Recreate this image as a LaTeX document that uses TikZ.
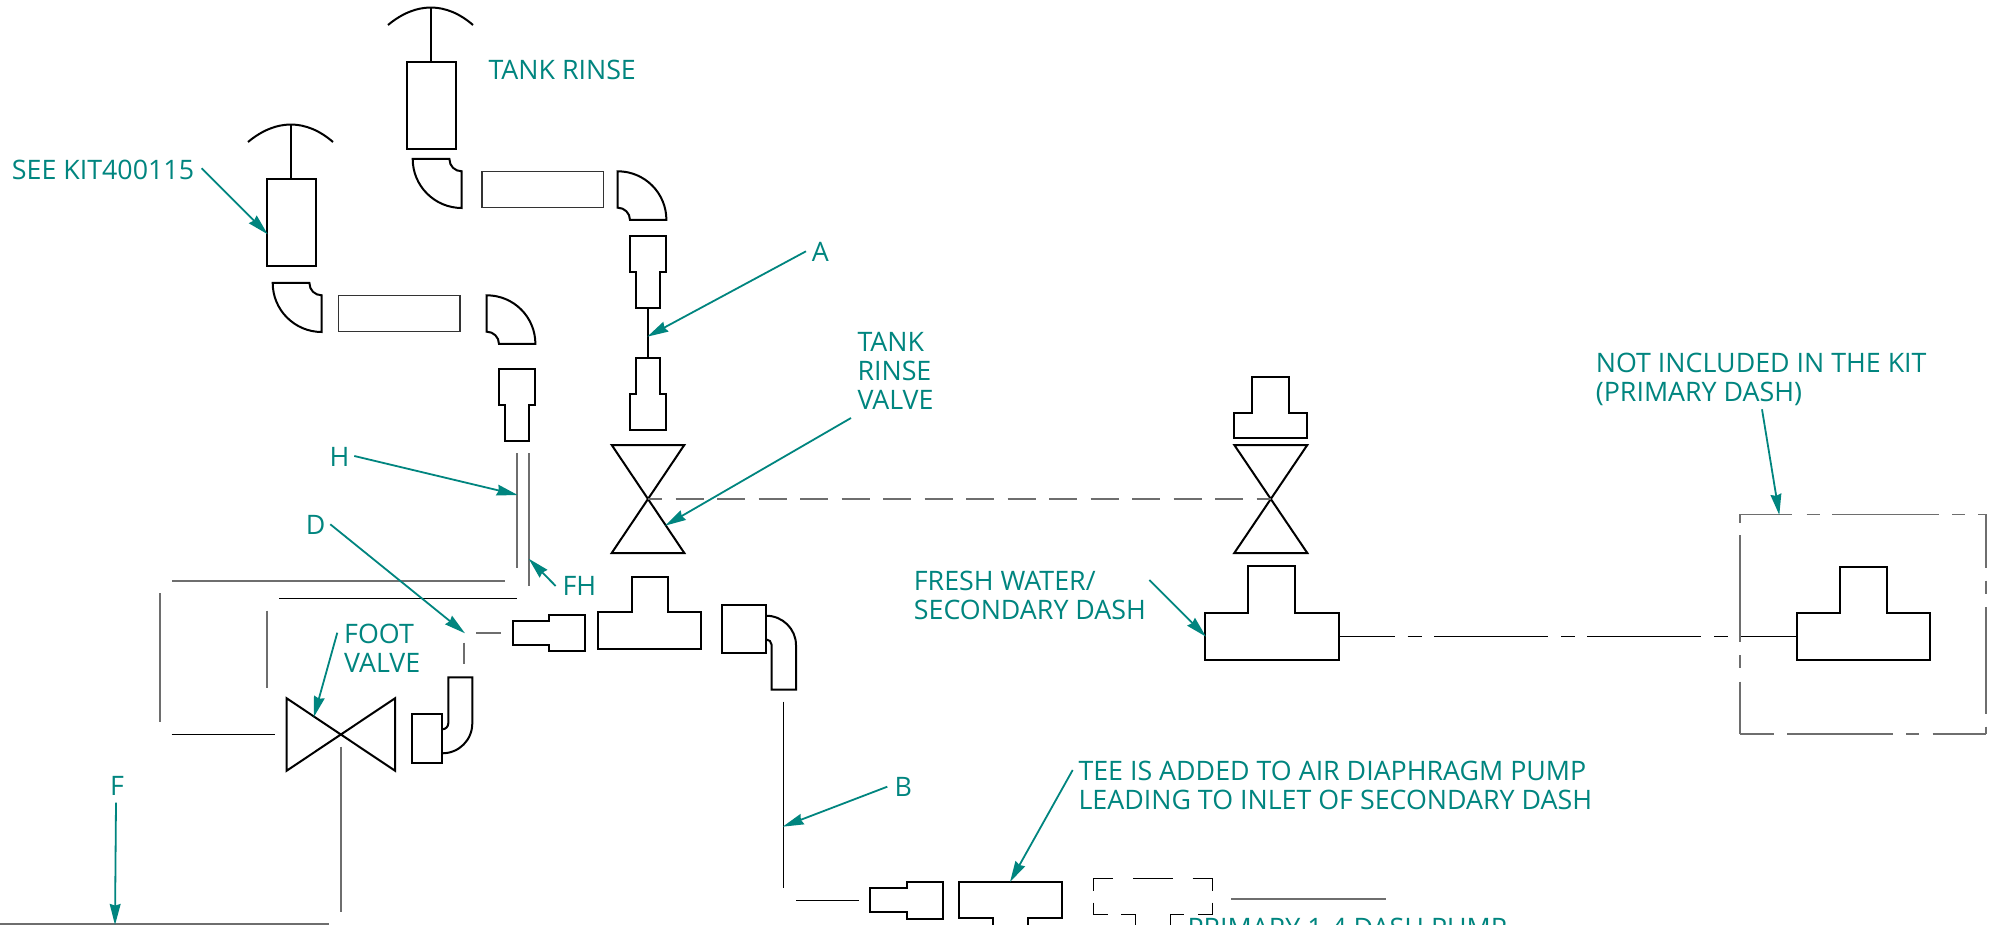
\documentclass[tikz,border=0pt]{standalone}
\usepackage{fontspec}
\setmainfont{Open Sans}
\usetikzlibrary{arrows.meta}
\definecolor{leader}{HTML}{00857F}
\definecolor{pipegray}{HTML}{6E6E6E}
\tikzset{
  part/.style={draw=black,line width=1pt,fill=none,line join=miter},
  thinbox/.style={draw=black!80,line width=.55pt},
  grayline/.style={draw=pipegray,line width=.8pt},
  thinline/.style={draw=black,line width=.5pt},
  lead/.style={draw=leader,line width=.9pt,-{Stealth[length=10.5pt,width=5.4pt,inset=.8pt]}},
  lab/.style={text=leader,anchor=base west,inner sep=0pt,align=left,xshift=-.6pt,yshift=-.5pt,font=\fontsize{13.4}{14.5}\selectfont},
  elbowa/.pic={\path[part] (0,0) .. controls (0,27) and (22,49) .. (49,49) -- (49,12.3) .. controls (42.2,12.3) and (36.7,7.1) .. (36.7,0) -- cycle;},
  elbowb/.pic={\path[part] (0,0) .. controls (27,0) and (48.7,21.7) .. (48.7,48.7) -- (12.3,48.7) .. controls (12.3,41.9) and (6.8,36.4) .. (0,36.4) -- cycle;},
  handle/.pic={\path[part] (0,18) .. controls (28,-5.3) and (58,-5.3) .. (85,18);
    \path[part] (43.3,0.5) -- (43.3,55);
    \path[part] (19.3,55) rectangle (68,141.7);}
}
\begin{document}
\begin{tikzpicture}[x=0.5pt,y=-0.5pt]
\useasboundingbox (0,0) rectangle (1993,925);
\begin{scope}
\clip (0,0) rectangle (1993,925);
\fill[white] (0,0) rectangle (1993,925);

% handles and upper pipe run
\pic at (388,7) {handle};
\pic at (248,124) {handle};
\pic at (412.7,159) {elbowa};
\pic at (272.7,283) {elbowa};
\pic at (617.7,171.3) {elbowb};
\pic at (486.7,295.3) {elbowb};
\path[thinbox] (482,171.3) rectangle (603.3,207.3);
\path[thinbox] (338.3,295.3) rectangle (460,331.3);

% reducers on the tank rinse line
\path[part] (630,235.7) -- (666.3,235.7) -- (666.3,272) -- (660,272) -- (660,307.7) -- (636,307.7) -- (636,272) -- (630,272) -- cycle;
\path[part] (648,307.7) -- (648,357.7);
\path[part] (636,357.7) -- (660,357.7) -- (660,394) -- (666.3,394) -- (666.3,430) -- (630,430) -- (630,394) -- (636,394) -- cycle;
\path[part] (498.7,369) -- (535,369) -- (535,405.3) -- (529.3,405.3) -- (529.3,441) -- (505,441) -- (505,405.3) -- (498.7,405.3) -- cycle;

% valves
\path[part] (611.7,445) -- (684.3,445) -- (611.7,553) -- (684.3,553) -- cycle;
\path[part] (1234.3,445) -- (1307.3,445) -- (1234.3,553) -- (1307.3,553) -- cycle;
\path[part] (286.7,698.3) -- (395,770.7) -- (395,698.3) -- (286.7,770.7) -- cycle;

% valve head
\path[part] (1252.3,377.3) -- (1289,377.3) -- (1289,413.3) -- (1307.3,413.3) -- (1307.3,438) -- (1234.3,438) -- (1234.3,413.3) -- (1252.3,413.3) -- cycle;

% tees
\path[part] (631.7,576.7) -- (667.7,576.7) -- (667.7,612.3) -- (701,612.3) -- (701,648.7) -- (598,648.7) -- (598,612.3) -- (631.7,612.3) -- cycle;
\path[part] (1248.3,566.3) -- (1295.3,566.3) -- (1295.3,613) -- (1338.7,613) -- (1338.7,659.7) -- (1205.3,659.7) -- (1205.3,613) -- (1248.3,613) -- cycle;
\path[part] (1840,566.7) -- (1887.3,566.7) -- (1887.3,613) -- (1930.3,613) -- (1930.3,660) -- (1797,660) -- (1797,613) -- (1840,613) -- cycle;
\path[part] (959.3,881.7) -- (1062,881.7) -- (1062,917.7) -- (1028.3,917.7) -- (1028.3,935) -- (993,935) -- (993,917.7) -- (959.3,917.7) -- cycle;

% reducers on the lower line
\path[part] (512.7,620.7) -- (548.7,620.7) -- (548.7,614.7) -- (585,614.7) -- (585,650.7) -- (548.7,650.7) -- (548.7,644.7) -- (512.7,644.7) -- cycle;
\path[part] (870.3,888) -- (906.7,888) -- (906.7,882) -- (942.7,882) -- (942.7,918.7) -- (906.7,918.7) -- (906.7,912) -- (870.3,912) -- cycle;

% bent fittings
\path[part] (722,605.3) rectangle (766,652.7);
\path[part] (766,615.7) .. controls (782.6,615.7) and (796,629) .. (796,645) -- (796,689.7) -- (771.7,689.7) -- (771.7,645) .. controls (771.7,642) and (769,639.3) .. (766,639.3);
\path[part] (411.7,714) rectangle (442.3,763.3);
\path[part] (442.3,753.3) .. controls (459,753.3) and (472.3,740) .. (472.3,723.3) -- (472.3,677.3) -- (448.3,677.3) -- (448.3,723.3) .. controls (448.3,726.6) and (445.6,729.3) .. (442.3,729.3);

% grey pipe lines
\path[grayline] (517,453.3) -- (517,568.3);
\path[grayline] (529,453.3) -- (529,586);
\path[grayline] (172,581) -- (505.3,581);
\path[grayline] (160,593.3) -- (160,722.3);
\path[grayline] (267,610.7) -- (267,688.3);
\path[grayline] (476,632.7) -- (500.7,632.7);
\path[grayline] (464,642.7) -- (464,664);
\path[grayline] (341,746.7) -- (341,912);
\path[grayline] (0,923.7) -- (328.7,923.7);
\path[grayline] (1231,899) -- (1385.7,899);
\path[thinline] (279,598.3) -- (516.7,598.3);
\path[thinline] (171.7,734.3) -- (275,734.3);
\path[thinline] (783.3,701.7) -- (783.3,888.3);
\path[thinline] (796,900.3) -- (858.7,900.3);

% dashed line between the valves
\path[grayline] (648.3,498.7) -- (661.7,498.7);
\foreach \a in {675.7,717.2,758.7,800.2,841.7,883.2,924.7,966.2,1007.7,1049.2,1090.7,1132.2,1173.7,1215.2}
  \path[grayline] (\a,498.7) -- ++(28,0);
\path[grayline] (1256.7,498.7) -- (1270.7,498.7);

% chain line between the tees
\foreach \a/\b in {1338.7/1395,1407.7/1421.7,1434.3/1548,1561/1574.7,1587.3/1700.7,1714/1727.7,1740/1796.7}
  \path[thinline] (\a,636.3) -- (\b,636.3);

% dashed box round the primary dash tee
\foreach \a/\b in {1740/1792.3,1806.7/1820,1832.3/1938.7,1952/1965.3,1978/1986}
  \path[grayline] (\a,514.3) -- (\b,514.3);
\foreach \a/\b in {1740/1774,1787.3/1892.7,1906/1919.3,1932.7/1986}
  \path[grayline] (\a,734) -- (\b,734);
\foreach \a/\b in {514.3/522.7,535.3/641.7,655/668.3,681.7/734}
  \path[grayline] (1740,\a) -- (1740,\b);
\foreach \a/\b in {514.3/567.7,580.7/594,607.3/714,726.7/734}
  \path[grayline] (1986,\a) -- (1986,\b);

% dashed tee at the foot
\foreach \a/\b in {1093.3/1113.3,1133.3/1172.7,1192.7/1212.7}
  \path[thinline] (\a,878.7) -- (\b,878.7);
\foreach \a/\b in {1093.3/1108,1121.3/1135.7,1170.7/1184.3,1198/1212.7}
  \path[thinline] (\a,914.3) -- (\b,914.3);
\foreach \a/\b in {878.7/890.7,902.7/914.3} {
  \path[thinline] (1093.3,\a) -- (1093.3,\b);
  \path[thinline] (1212.7,\a) -- (1212.7,\b);
}
\path[thinline] (1135.7,914.3) -- (1135.7,930);
\path[thinline] (1170.7,914.3) -- (1170.7,930);

% labels
\node[lab] (see) at (12.7,178.3) {SEE KIT400115};
\node[lab] (rinse) at (489.3,78.3) {TANK RINSE};
\node[lab] (a) at (812.7,260.7) {A};
\node[lab] (trv) at (858.3,408.7) {TANK\\RINSE\\VALVE};
\node[lab] (h) at (330.3,465.7) {H};
\node[lab] (d) at (306.7,533.7) {D};
\node[lab] (fh) at (563.3,594.3) {FH};
\node[lab] (foot) at (345,671.7) {FOOT\\VALVE};
\node[lab] (f) at (111,794) {F};
\node[lab] (b) at (895.3,795.3) {B};
\node[lab] (fresh) at (914.7,618.7) {FRESH WATER/\\SECONDARY DASH};
\node[lab] (notin) at (1596.7,400) {NOT INCLUDED IN THE KIT\\(PRIMARY DASH)};
\node[lab] (tee) at (1079.3,808.3) {TEE IS ADDED TO AIR DIAPHRAGM PUMP\\LEADING TO INLET OF SECONDARY DASH};
\node[lab] (prim) at (1188.3,936.7) {PRIMARY 1-4 DASH PUMP};

% leader arrows
\coordinate (see s) at (201.7,168.3);   \coordinate (see t) at (267.7,234.3);
\coordinate (a s) at (806,251.3);       \coordinate (a t) at (647.3,336.7);
\coordinate (trv s) at (851,418);       \coordinate (trv t) at (665,525.7);
\coordinate (h s) at (354.3,456);       \coordinate (h t) at (517.7,495);
\coordinate (d s) at (330.3,524.3);     \coordinate (d t) at (465,633.3);
\coordinate (fh s) at (555.7,586);      \coordinate (fh t) at (528.7,558.7);
\coordinate (foot s) at (337.3,632.7);  \coordinate (foot t) at (313.7,717.3);
\coordinate (f s) at (116,802.7);       \coordinate (f t) at (115,925);
\coordinate (b s) at (887.3,786.7);     \coordinate (b t) at (782.7,826.7);
\coordinate (fresh s) at (1149.3,580);  \coordinate (fresh t) at (1206,636.7);
\coordinate (notin s) at (1762,409.3);  \coordinate (notin t) at (1779.3,515);
\coordinate (tee s) at (1072.7,770);    \coordinate (tee t) at (1010,882);
\foreach \n in {see,a,trv,h,d,fh,foot,f,b,fresh,notin,tee}
  \draw[lead] (\n\space s) -- (\n\space t);
\end{scope}
\end{tikzpicture}
\end{document}
